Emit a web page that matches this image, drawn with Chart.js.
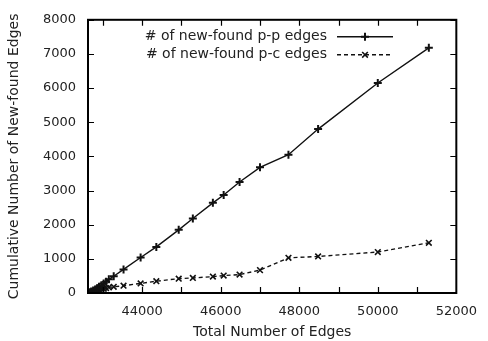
<!DOCTYPE html>
<html><head><meta charset="utf-8">
<script src="https://cdn.jsdelivr.net/npm/chart.js@4/dist/chart.umd.min.js"></script>
<style>html,body{margin:0;padding:0;background:#fff}</style>
</head><body>
<canvas id="c" width="488" height="341" style="display:block;width:488px;height:341px"></canvas>
<script>
// ---- data ----
const totalEdges = [42620, 42660, 42700, 42750, 42800, 42850, 42900, 42960, 43020, 43080, 43150,
  43275, 43525, 43960, 44360, 44930, 45290, 45800, 46075, 46480, 47000, 47725, 48480, 50000, 51300];
const ppEdges = [0, 20, 45, 75, 105, 140, 180, 225, 275, 330, 400,
  490, 690, 1040, 1350, 1850, 2180, 2640, 2870, 3250, 3680, 4050, 4800, 6150, 7180];
const pcEdges = [0, 10, 25, 40, 55, 70, 90, 105, 125, 145, 165,
  180, 215, 280, 345, 420, 440, 480, 510, 540, 670, 1030, 1070, 1200, 1470];
const xTickLabels = [44000, 46000, 48000, 50000, 52000];
const yTickLabels = [0, 1000, 2000, 3000, 4000, 5000, 6000, 7000, 8000];
const seriesNames = ['# of new-found p-p edges', '# of new-found p-c edges'];
const xTitle = 'Total Number of Edges';
const yTitle = 'Cumulative Number of New-found Edges';

const FONT = '"DejaVu Sans", sans-serif';
const FS = 13;
const FT = 14;
const TXT = '#222';

function pts(ys) { return totalEdges.map((x, i) => ({x: x, y: ys[i]})); }

const framePlugin = {
  id: 'frame',
  afterDatasetsDraw(chart) {
    const {ctx, chartArea: a, scales: {x, y}} = chart;
    ctx.save();
    ctx.strokeStyle = '#000';
    ctx.lineWidth = 1.2;
    const L = 6;
    ctx.beginPath();
    for (let v = 43000; v <= 51000; v += 1000) {
      const px = Math.round(x.getPixelForValue(v)) + 0.5;
      ctx.moveTo(px, a.bottom); ctx.lineTo(px, a.bottom - L);
      ctx.moveTo(px, a.top); ctx.lineTo(px, a.top + L);
    }
    for (const v of yTickLabels) {
      const py = Math.round(y.getPixelForValue(v)) + 0.5;
      ctx.moveTo(a.left, py); ctx.lineTo(a.left + L, py);
      ctx.moveTo(a.right, py); ctx.lineTo(a.right - L, py);
    }
    ctx.stroke();
    ctx.lineWidth = 2;
    ctx.strokeRect(a.left, a.top, a.right - a.left, a.bottom - a.top);
    // legend
    ctx.font = FT + 'px ' + FONT;
    ctx.fillStyle = TXT;
    ctx.textAlign = 'right';
    ctx.textBaseline = 'middle';
    chart.data.datasets.forEach((ds, i) => {
      const yy = a.top + 17 + i * 18;
      ctx.fillText(ds.label, a.left + 239, yy);
      ctx.strokeStyle = ds.borderColor;
      ctx.lineWidth = ds.borderWidth;
      ctx.setLineDash(ds.borderDash || []);
      ctx.beginPath();
      ctx.moveTo(a.left + 249, yy); ctx.lineTo(a.left + 305, yy);
      ctx.stroke();
      ctx.setLineDash([]);
      ctx.lineWidth = ds.pointBorderWidth;
      Chart.helpers.drawPoint(ctx, {pointStyle: ds.pointStyle, radius: ds.pointRadius, rotation: 0, borderWidth: ds.pointBorderWidth}, a.left + 277, yy);
    });
    ctx.restore();
  }
};

new Chart(document.getElementById('c'), {
  type: 'scatter',
  data: {
    datasets: [
      {label: seriesNames[0], data: pts(ppEdges), showLine: true, borderColor: '#111', backgroundColor: '#111',
       borderWidth: 1.4, pointStyle: 'cross', pointRadius: 4, pointBorderWidth: 2, pointBorderColor: '#111'},
      {label: seriesNames[1], data: pts(pcEdges), showLine: true, borderColor: '#111', backgroundColor: '#111',
       borderWidth: 1.4, borderDash: [4, 3], pointStyle: 'crossRot', pointRadius: 4, pointBorderWidth: 1.6, pointBorderColor: '#111'}
    ]
  },
  options: {
    responsive: false,
    animation: false,
    layout: {padding: {left: 0, right: 25, top: 16, bottom: 0}},
    plugins: {legend: {display: false}, tooltip: {enabled: false}},
    scales: {
      x: {
        type: 'linear', min: 42620, max: 52000,
        afterBuildTicks: s => { s.ticks = xTickLabels.map(v => ({value: v})); },
        afterFit: s => { s.height = 48; },
        grid: {display: false, drawTicks: false},
        border: {display: false},
        ticks: {color: TXT, font: {family: FONT, size: FS}, padding: 11, maxRotation: 0, autoSkip: false,
                callback: v => String(v)},
        title: {display: true, text: xTitle, color: TXT, font: {family: FONT, size: FT}, padding: {top: 0, bottom: 0}}
      },
      y: {
        type: 'linear', min: 0, max: 8000,
        afterBuildTicks: s => { s.ticks = yTickLabels.map(v => ({value: v})); },
        afterFit: s => { s.width = 88; },
        grid: {display: false, drawTicks: false},
        border: {display: false},
        ticks: {color: TXT, font: {family: FONT, size: FS}, padding: 12, autoSkip: false,
                callback: v => String(v)},
        title: {display: true, text: yTitle, color: TXT, font: {family: FONT, size: FT}, padding: {top: 6, bottom: 0}}
      }
    }
  },
  plugins: [framePlugin]
});
</script>
</body></html>
